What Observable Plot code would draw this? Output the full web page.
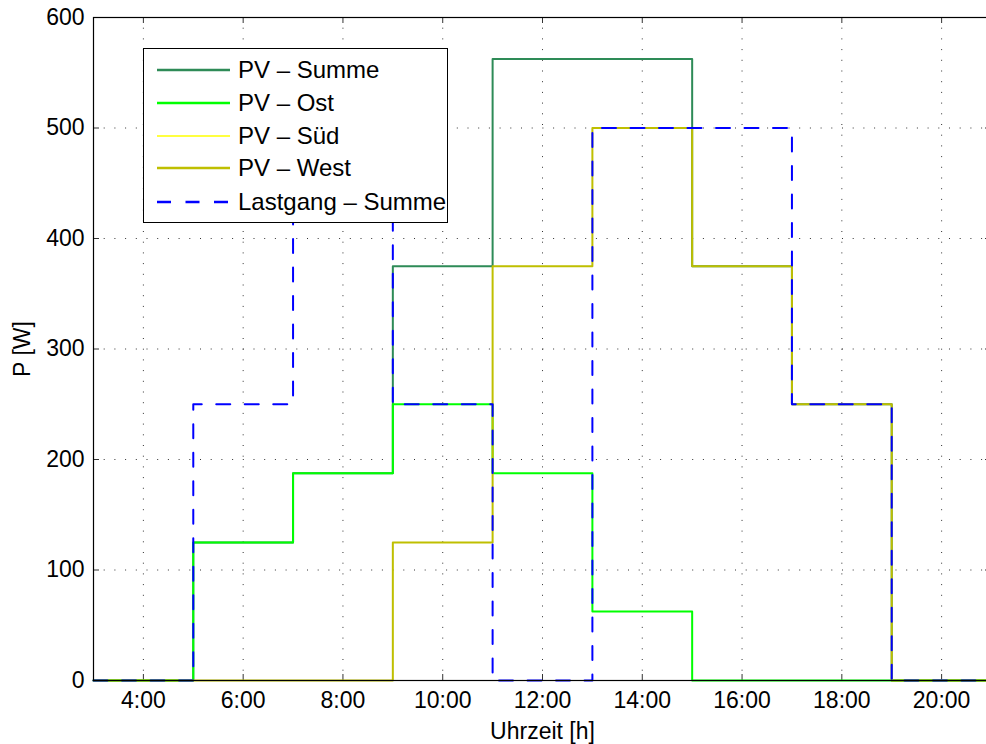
<!DOCTYPE html>
<html>
<head>
<meta charset="utf-8">
<script src="https://cdn.jsdelivr.net/npm/d3@7"></script>
<script src="https://cdn.jsdelivr.net/npm/@observablehq/plot@0.6"></script>
<style>
  html, body { margin: 0; padding: 0; background: #fff; overflow: hidden; }
  #wrap { position: relative; width: 986px; height: 744px; overflow: hidden; font-family: "Liberation Sans", Arial, sans-serif; }
  #wrap svg.plot { max-width: none !important; }
  #legend { position: absolute; left: 143px; top: 48px; width: 305px; height: 175px; border: 1.5px solid #000; background: #fff; box-sizing: border-box; }
  .row { position: absolute; left: 0; height: 30px; display: flex; align-items: center; }
  .row svg { margin-left: 13px; }
  .row span { margin-left: 8px; font-size: 24px; color: #000; white-space: nowrap; }
</style>
</head>
<body>
<div id="wrap"></div>
<script>
// ---- data ----
const hours = [3, 5, 7, 9, 11, 13, 15, 17, 19, 21];
const pvSumme = [0, 125, 187.5, 375, 562.5, 562.5, 375, 250, 0, 0];
const pvOst   = [0, 125, 187.5, 250, 187.5, 62.5, 0, 0, 0, 0];
const pvSued  = [0, 0, 0, 0, 0, 0, 0, 0, 0, 0];
const pvWest  = [0, 0, 0, 125, 375, 500, 375, 250, 0, 0];
const lastgang = [0, 250, 500, 250, 0, 500, 500, 250, 0, 0];
const seriesNames = ["PV – Summe", "PV – Ost", "PV – Süd", "PV – West", "Lastgang – Summe"];
const xTicks = [4, 6, 8, 10, 12, 14, 16, 18, 20];
const yTicks = [0, 100, 200, 300, 400, 500, 600];

// ---- styles ----
const styles = [
  {stroke: "#2e8b57", strokeWidth: 2, dash: null},
  {stroke: "#00ff00", strokeWidth: 2, dash: null},
  {stroke: "#ffff00", strokeWidth: 1.2, dash: null},
  {stroke: "#bfbf00", strokeWidth: 2, dash: null},
  {stroke: "#0000ff", strokeWidth: 2, dash: "14,14.5"}
];
const allSeries = [pvSumme, pvOst, pvSued, pvWest, lastgang];

const W = 991, H = 744, mL = 93, mR = 0, mT = 17, mB = 64;
const pxX = 18 / (W - mL - mR), pxY = 600 / (H - mT - mB);
const tkX = 6 * pxX, tkY = 6 * pxY;

const lineMarks = allSeries.map((vals, i) =>
  Plot.line(hours.map((h, j) => ({h, v: vals[j]})), {
    x: "h", y: "v", curve: "step-after",
    stroke: styles[i].stroke, strokeWidth: styles[i].strokeWidth,
    strokeDasharray: styles[i].dash
  })
);

const chart = Plot.plot({
  width: W, height: H,
  marginLeft: mL, marginRight: mR, marginTop: mT, marginBottom: mB,
  style: {fontFamily: "Liberation Sans, Arial, sans-serif", fontSize: "23px", background: "#fff", overflow: "visible", maxWidth: "none"},
  x: {domain: [3, 21]},
  y: {domain: [0, 600]},
  marks: [
    Plot.ruleX(xTicks, {stroke: "#333", strokeWidth: 1, strokeDasharray: "1,9.7"}),
    Plot.ruleY(yTicks.slice(1, -1), {stroke: "#333", strokeWidth: 1, strokeDasharray: "1,9.7"}),
    Plot.ruleX(xTicks, {y1: 0, y2: tkY, stroke: "#333"}),
    Plot.ruleX(xTicks, {y1: 600 - tkY, y2: 600, stroke: "#333"}),
    Plot.ruleY(yTicks, {x1: 3, x2: 3 + tkX, stroke: "#333"}),
    Plot.ruleY(yTicks, {x1: 21 - tkX, x2: 21, stroke: "#333"}),
    Plot.axisX(xTicks, {tickSize: 0, tickPadding: 11, tickFormat: d => d + ":00", fontSize: 23,
      label: "Uhrzeit [h]", labelAnchor: "center", labelArrow: "none", labelOffset: 58}),
    Plot.axisY(yTicks, {tickSize: 0, tickPadding: 9, fontSize: 23,
      label: "P [W]", labelAnchor: "center", labelArrow: "none", labelOffset: 80}),
    ...lineMarks,
    Plot.frame({stroke: "#000", strokeWidth: 1.2})
  ]
});

const wrap = document.getElementById("wrap");
wrap.appendChild(chart);

// legend
const legend = document.createElement("div");
legend.id = "legend";
const rowTops = [6, 39, 72, 104, 138];
seriesNames.forEach((name, i) => {
  const row = document.createElement("div");
  row.className = "row";
  row.style.top = rowTops[i] + "px";
  const s = styles[i];
  row.innerHTML = `<svg width="73" height="10"><line x1="0" y1="5" x2="73" y2="5" stroke="${s.stroke}" stroke-width="${s.strokeWidth + 0.5}" ${s.dash ? 'stroke-dasharray="14,14.5"' : ''}/></svg><span></span>`;
  row.querySelector("span").textContent = name;
  legend.appendChild(row);
});
wrap.appendChild(legend);
</script>
</body>
</html>
